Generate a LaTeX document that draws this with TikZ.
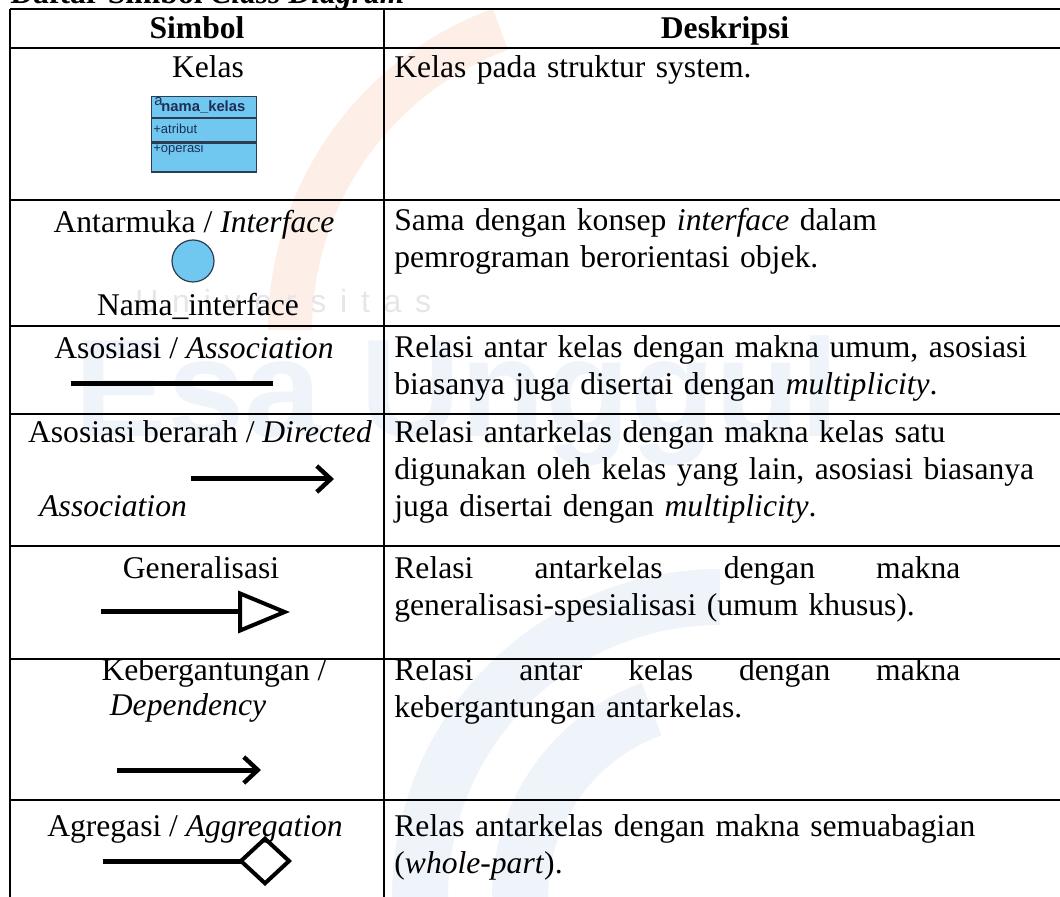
\documentclass[tikz,border=0pt]{standalone}
\usepackage{fontspec}
\setmainfont{Liberation Serif}
\setsansfont{Liberation Sans}
\newfontfamily\markfont[LetterSpace=43]{Liberation Sans}
\usetikzlibrary{arrows.meta}

\definecolor{ClassBlue}{RGB}{112, 200, 240}
\definecolor{ClassEdge}{RGB}{45, 60, 80}
\definecolor{ClassText}{RGB}{30, 45, 85}
\definecolor{MarkBlue}{RGB}{239, 243, 250}
\definecolor{MarkOrange}{RGB}{253, 238, 231}
\definecolor{MarkGray}{RGB}{230, 230, 234}

\newcommand{\spreadline}[1]{\hbox to 283pt{#1}}

\begin{document}
\begin{tikzpicture}[
        x=0.5pt, y=-0.5pt,
        txt/.style={inner sep=0pt, font=\fontsize{15.8pt}{18.5pt}\selectfont},
        head/.style={txt, anchor=base, font=\fontsize{15.8pt}{18.5pt}\selectfont\bfseries},
        sym/.style={txt, anchor=base},
        desc/.style={txt, anchor=base west, text width=340pt, align=left},
        rule/.style={line width=1.3pt, black},
        umlbox/.style={draw=ClassEdge, fill=ClassBlue, line width=0.6pt,
                       minimum width=52.5pt, inner sep=0pt, anchor=north west},
        umltext/.style={inner sep=0pt, anchor=west, text=ClassText,
                        font=\sffamily\fontsize{6.5pt}{7pt}\selectfont},
        assoc/.style={line width=2.5pt, black},
        barb/.style={assoc, -{Straight Barb[length=7pt, width=13pt, line width=2.2pt]}},
        gener/.style={assoc, -{Triangle[open, length=26pt, width=21pt, line width=2pt]}},
        aggr/.style={assoc, -{Diamond[open, length=27pt, width=25pt, line width=2pt]}}
    ]
        \useasboundingbox (0,0) rectangle (1060,897);
        \clip (0,0) rectangle (1060,897);

        % faint watermark in the background
        \draw[MarkOrange, line width=22pt] (290,330) arc[start angle=180, end angle=250, radius=320];
        \draw[MarkBlue, line width=28pt] (420,897) arc[start angle=180, end angle=270, radius=300];
        \draw[MarkBlue, line width=28pt] (520,897) arc[start angle=180, end angle=250, radius=200];
        \node[inner sep=0pt, anchor=base west, text=MarkGray, font=\markfont\fontsize{16pt}{18pt}\selectfont]
            (markUniv) at (135,313) {Universitas};
        \node[inner sep=0pt, anchor=base west, text=MarkBlue, font=\sffamily\bfseries\fontsize{69.5pt}{72pt}\selectfont]
            (markEsa) at (74,437) {Esa Unggul};

        % title, cut at the top of the picture
        \node[txt, anchor=base west, font=\fontsize{15.8pt}{18.5pt}\selectfont\bfseries] (title) at (10,4)
            {Daftar Simbol \textit{Class Diagram}};

        % table rules
        \foreach \y in {9,48,200,326,414,546,659,800}
            \draw[rule] (10,\y) -- (1075,\y);
        \draw[rule] (10,9) -- (10,905);
        \draw[rule] (384,9) -- (384,905);

        % header
        \node[head] (hSimbol) at (197,39) {Simbol};
        \node[head] (hDesc) at (725,39) {Deskripsi};

        % kelas
        \node[sym] (kelas) at (208,78) {Kelas};
        \node[umlbox, minimum height=10.5pt] (clsName) at (151,96) {};
        \node[umlbox, minimum height=11.5pt] (clsAttr) at (clsName.south west) {};
        \node[umlbox, minimum height=14.5pt] (clsOper) at (clsAttr.south west) {};
        \node[umltext, anchor=north west, font=\sffamily\fontsize{7.5pt}{8pt}\selectfont] (clsIcon) at (154,97) {a};
        \node[umltext, font=\sffamily\bfseries\fontsize{7.4pt}{8pt}\selectfont] (clsTitle) at (161,107) {nama\_kelas};
        \node[umltext] (clsAtr) at (153,129) {+atribut};
        \node[umltext] (clsOp) at (153,149) {+operasi};
        \node[desc] (dKelas) at (394,78) {Kelas pada struktur system.};

        % interface
        \node[sym] (iface) at (194,233) {Antarmuka / \textit{Interface}};
        \node[circle, draw=ClassEdge, fill=ClassBlue, line width=0.6pt, minimum size=21pt, inner sep=0pt]
            (ifaceCircle) at (193,261) {};
        \node[sym] (ifaceName) at (198,316) {Nama\_interface};
        \node[desc] (dIface) at (394,231)
            {Sama dengan konsep \textit{interface} dalam\\pemrograman berorientasi objek.};

        % asosiasi
        \node[sym] (asos) at (194,359) {Asosiasi / \textit{Association}};
        \coordinate (asosA) at (71,384);
        \coordinate (asosB) at (273,384);
        \draw[assoc] (asosA) -- (asosB);
        \node[desc] (dAsos) at (394,358)
            {Relasi antar kelas dengan makna umum, asosiasi\\biasanya juga disertai dengan \textit{multiplicity}.};

        % asosiasi berarah
        \node[sym] (dirAsos) at (200,443) {Asosiasi berarah / \textit{Directed}};
        \node[txt, anchor=base west] (dirAsos2) at (39,517) {\textit{Association}};
        \coordinate (dirA) at (191,479);
        \coordinate (dirB) at (334,479);
        \draw[barb] (dirA) -- (dirB);
        \node[desc] (dDir) at (394,443)
            {Relasi antarkelas dengan makna kelas satu\\digunakan oleh kelas yang lain, asosiasi biasanya\\juga disertai dengan \textit{multiplicity}.};

        % generalisasi
        \node[sym] (gen) at (201,579) {Generalisasi};
        \coordinate (genA) at (101,612);
        \coordinate (genB) at (290,612);
        \draw[gener] (genA) -- (genB);
        \node[desc] (dGen) at (394,579)
            {\spreadline{Relasi\hfill antarkelas\hfill dengan\hfill makna}\\generalisasi-spesialisasi (umum khusus).};

        % kebergantungan
        \node[sym] (dep) at (214,680) {Kebergantungan /};
        \node[sym] (dep2) at (188,715) {\textit{Dependency}};
        \coordinate (depA) at (117,770);
        \coordinate (depB) at (261,770);
        \draw[barb] (depA) -- (depB);
        \node[desc] (dDep) at (394,680)
            {\spreadline{Relasi\hfill antar\hfill kelas\hfill dengan\hfill makna}\\kebergantungan antarkelas.};

        % agregasi
        \node[sym] (agg) at (195,836) {Agregasi / \textit{Aggregation}};
        \coordinate (aggA) at (103,861);
        \coordinate (aggB) at (292,861);
        \draw[aggr] (aggA) -- (aggB);
        \node[desc] (dAgg) at (394,836)
            {Relas antarkelas dengan makna semuabagian\\(\textit{whole-part}).};
    \end{tikzpicture}
\end{document}
